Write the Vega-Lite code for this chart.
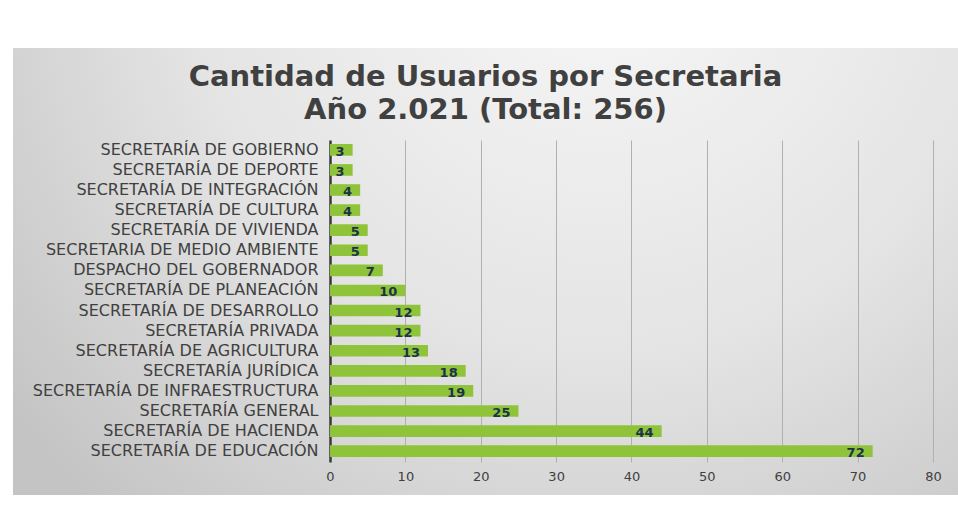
{
  "$schema": "https://vega.github.io/schema/vega-lite/v6.json",
  "width": 945,
  "height": 447,
  "autosize": {"type": "none"},
  "padding": {"left": 13, "top": 48, "right": 0, "bottom": 37},
  "background": "white",
  "config": {
    "view": {
      "stroke": null,
      "fill": {
        "gradient": "radial",
        "x1": 0.62, "y1": 0.15, "r1": 0,
        "x2": 0.62, "y2": 0.15, "r2": 0.8,
        "stops": [
          {"offset": 0, "color": "#f8f8f8"},
          {"offset": 0.55, "color": "#e4e4e4"},
          {"offset": 1, "color": "#c4c4c4"}
        ]
      }
    }
  },
  "title": {
    "text": "Cantidad de Usuarios por Secretaria",
    "subtitle": "Año 2.021 (Total: 256)",
    "anchor": "middle",
    "font": "DejaVu Sans",
    "fontSize": 29,
    "fontWeight": "bold",
    "color": "#404040",
    "subtitleFont": "DejaVu Sans",
    "subtitleFontSize": 29,
    "subtitleFontWeight": "bold",
    "subtitleColor": "#404040",
    "subtitlePadding": 4,
    "offset": -77
  },
  "data": {
    "values": [
      {"secretaria": "SECRETARÍA DE GOBIERNO", "usuarios": 3},
      {"secretaria": "SECRETARÍA DE DEPORTE", "usuarios": 3},
      {"secretaria": "SECRETARÍA DE INTEGRACIÓN", "usuarios": 4},
      {"secretaria": "SECRETARÍA DE CULTURA", "usuarios": 4},
      {"secretaria": "SECRETARÍA DE VIVIENDA", "usuarios": 5},
      {"secretaria": "SECRETARIA DE MEDIO AMBIENTE", "usuarios": 5},
      {"secretaria": "DESPACHO DEL GOBERNADOR", "usuarios": 7},
      {"secretaria": "SECRETARÍA DE PLANEACIÓN", "usuarios": 10},
      {"secretaria": "SECRETARÍA DE DESARROLLO", "usuarios": 12},
      {"secretaria": "SECRETARÍA PRIVADA", "usuarios": 12},
      {"secretaria": "SECRETARÍA DE AGRICULTURA", "usuarios": 13},
      {"secretaria": "SECRETARÍA JURÍDICA", "usuarios": 18},
      {"secretaria": "SECRETARÍA DE INFRAESTRUCTURA", "usuarios": 19},
      {"secretaria": "SECRETARÍA GENERAL", "usuarios": 25},
      {"secretaria": "SECRETARÍA DE HACIENDA", "usuarios": 44},
      {"secretaria": "SECRETARÍA DE EDUCACIÓN", "usuarios": 72}
    ]
  },
  "layer": [
    {
      "mark": {"type": "bar", "color": "#8fc33a"},
      "encoding": {
        "y": {
          "field": "secretaria",
          "type": "nominal",
          "sort": null,
          "scale": {"range": [92, 413], "paddingInner": 0.42, "paddingOuter": 0.2},
          "axis": {
            "title": null,
            "domain": false,
            "ticks": false,
            "offset": -317,
            "labelPadding": 12,
            "labelFont": "DejaVu Sans",
            "labelFontSize": 16,
            "labelColor": "#404040",
            "labelLimit": 400
          }
        },
        "x": {
          "field": "usuarios",
          "type": "quantitative",
          "scale": {"domain": [-42.06, 83.32], "nice": false, "zero": false},
          "axis": {
            "title": null,
            "values": [0, 10, 20, 30, 40, 50, 60, 70, 80],
            "domain": false,
            "grid": false,
            "ticks": true,
            "tickSize": -322,
            "tickColor": {"expr": "datum.value === 0 ? '#3a3a3a' : '#b0b0b0'"},
            "tickWidth": {"expr": "datum.value === 0 ? 2.5 : 1"},
            "offset": -33,
            "labelPadding": 330,
            "labelFont": "DejaVu Sans",
            "labelFontSize": 13,
            "labelColor": "#404040"
          }
        }
      }
    },
    {
      "mark": {
        "type": "text",
        "align": "right",
        "baseline": "middle",
        "dx": -8,
        "dy": 2,
        "font": "DejaVu Sans",
        "fontSize": 13,
        "fontWeight": "bold",
        "color": "#1b3447"
      },
      "encoding": {
        "y": {"field": "secretaria", "type": "nominal", "sort": null},
        "x": {"field": "usuarios", "type": "quantitative"},
        "text": {"field": "usuarios", "type": "quantitative"}
      }
    }
  ]
}
